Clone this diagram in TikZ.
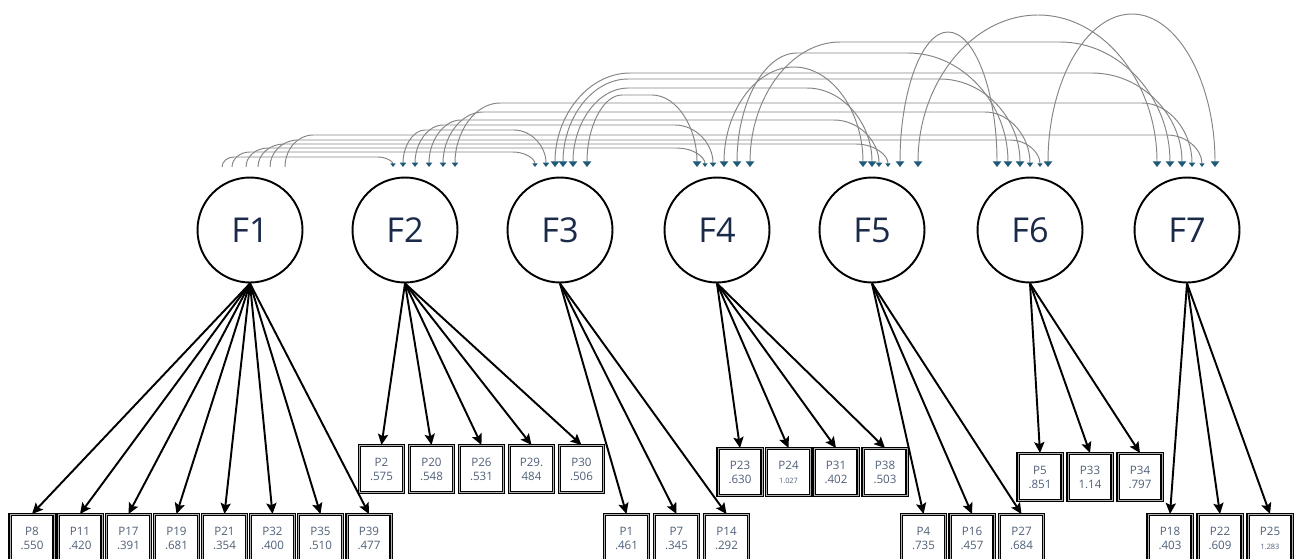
\documentclass[tikz,border=0pt]{standalone}
\usepackage{fontspec}
\setmainfont{Open Sans}
\usetikzlibrary{arrows.meta,calc}
\definecolor{navy}{HTML}{1B2A48}
\definecolor{boxtxt}{HTML}{4F5F78}
\definecolor{headc}{HTML}{1F5A78}
\definecolor{covc}{HTML}{858585}
% #1 start, #2 end, #3 rise, #4 left radius, #5 right radius, #6 style
\newcommand\covarc[6]{\draw[covline,#6] (#1) .. controls +(0,0.552*#3) and +(-0.552*#4,0) .. ++(#4,#3) -- ($(#2)+(-#5,#3)$) .. controls +(0.552*#5,0) and +(0,0.552*#3) .. (#2);}
\begin{document}
\begin{tikzpicture}[x=0.02cm,y=0.02cm,
  factor/.style={circle,draw=black,line width=1.1pt,minimum size=2.1cm,inner sep=0pt,font=\fontsize{19.5}{19.5}\selectfont,text=navy},
  item/.style={rectangle,draw=black,line width=0.7pt,double=black!30,double distance=0.45pt,minimum width=0.88cm,minimum height=0.94cm,inner sep=0pt,anchor=north,align=center,font=\fontsize{6.6}{8}\selectfont,text=boxtxt},
  load/.style={line width=1.1pt,-{Stealth[length=6.2pt,width=5.8pt,inset=1.2pt]}},
  covline/.style={draw=covc,line width=0.55pt},
  hb/.style={{Triangle[width=4.8pt,length=3.2pt,color=headc]}-{Triangle[width=4.8pt,length=3.2pt,color=headc]}},
  hm/.style={{Triangle[width=3.6pt,length=2.5pt,color=headc]}-{Triangle[width=3.6pt,length=2.5pt,color=headc]}},
  hs/.style={-{Triangle[width=2.8pt,length=2pt,color=headc]}}
]
\useasboundingbox (0,0) rectangle (1295,-558);

% covariance end points
\foreach \n/\x in {d12/222,d13/232,d14/246,d15/258,d16/270,d17/285,
  d23/403,d24/415,d25/429,d26/443,d27/455,
  d34/587,d35/573,d36/563,d37/555,
  d45/724,d46/737,d47/750,d56/900,d57/918,d67/1048,
  a12/393,a13/535,a14/705,a15/888,a16/1040,a17/1202,
  a23/546,a24/713,a25/879,a26/1030,a27/1192,
  a34/697,a35/872,a36/1020,a37/1182,
  a45/863,a46/1008,a47/1170,a56/997,a57/1157,a67/1215}
  {\coordinate (\n) at (\x,-167);}

% covariance arcs
\covarc{d12}{a12}{10}{12}{15}{hs}
\covarc{d13}{a13}{15}{18}{22}{hs}
\covarc{d14}{a14}{19}{22}{28}{hs}
\covarc{d15}{a15}{23}{26}{32}{hs}
\covarc{d16}{a16}{27}{28}{30}{hs}
\covarc{d17}{a17}{32}{28}{35}{hs}
\covarc{d23}{a23}{37}{22}{32}{hm}
\covarc{d24}{a24}{42}{28}{38}{hm}
\covarc{d25}{a25}{47}{32}{45}{hm}
\covarc{d26}{a26}{55}{40}{45}{hm}
\covarc{d27}{a27}{64}{45}{50}{hm}
\covarc{d34}{a34}{72}{35}{45}{hb}
\covarc{d35}{a35}{79}{55}{65}{hb}
\covarc{d36}{a36}{88}{65}{80}{hb}
\covarc{d37}{a37}{94}{75}{90}{hb}
\covarc{d45}{a45}{100}{70}{69}{hb}
\covarc{d46}{a46}{114}{60}{100}{hb}
\covarc{d47}{a47}{125}{90}{110}{hb}
\covarc{d56}{a56}{135}{48}{49}{hb}
\covarc{d57}{a57}{152}{120}{119}{hb}
\covarc{d67}{a67}{153}{84}{83}{hb}

% factors
\node[factor] (F1) at (250,-230) {F1};
\node[factor] (F2) at (405,-230) {F2};
\node[factor] (F3) at (560,-230) {F3};
\node[factor] (F4) at (717,-230) {F4};
\node[factor] (F5) at (872,-230) {F5};
\node[factor] (F6) at (1030,-230) {F6};
\node[factor] (F7) at (1187,-230) {F7};

% items F1
\node[item] (P8)  at (32,-514)    {P8\\.550};
\node[item] (P11) at (80,-514)    {P11\\.420};
\node[item] (P17) at (128.5,-514) {P17\\.391};
\node[item] (P19) at (176.5,-514) {P19\\.681};
\node[item] (P21) at (224.5,-514) {P21\\.354};
\node[item] (P32) at (272.5,-514) {P32\\.400};
\node[item] (P35) at (320.5,-514) {P35\\.510};
\node[item] (P39) at (369,-514)   {P39\\.477};
% items F2
\node[item] (P2)  at (381.5,-445) {P2\\.575};
\node[item] (P20) at (431.5,-445) {P20\\.548};
\node[item] (P26) at (481.5,-445) {P26\\.531};
\node[item] (P29) at (531.5,-445) {P29.\\484};
\node[item] (P30) at (581.5,-445) {P30\\.506};
% items F3
\node[item] (P1)  at (626.5,-514) {P1\\.461};
\node[item] (P7)  at (676.5,-514) {P7\\.345};
\node[item] (P14) at (726.5,-514) {P14\\.292};
% items F4
\node[item] (P23) at (740,-448)   {P23\\.630};
\node[item] (P24) at (788.5,-448) {P24\\{\fontsize{4.2}{5}\selectfont 1.027}};
\node[item] (P31) at (836,-448)   {P31\\.402};
\node[item] (P38) at (885,-448)   {P38\\.503};
% items F5
\node[item] (P4)  at (923.5,-514) {P4\\.735};
\node[item] (P16) at (972,-514)   {P16\\.457};
\node[item] (P27) at (1021.5,-514){P27\\.684};
% items F6
\node[item] (P5)  at (1040,-453)  {P5\\.851};
\node[item] (P33) at (1090,-453)  {P33\\1.14};
\node[item] (P34) at (1140,-453)  {P34\\.797};
% items F7
\node[item] (P18) at (1170,-514)  {P18\\.403};
\node[item] (P22) at (1220,-514)  {P22\\.609};
\node[item] (P25) at (1270,-514)  {P25\\{\fontsize{4.2}{5}\selectfont 1.283}};

% loadings
\foreach \p in {P8,P11,P17,P19,P21,P32,P35,P39} \draw[load] (F1.south) -- (\p.north);
\foreach \p in {P2,P20,P26,P29,P30} \draw[load] (F2.south) -- (\p.north);
\foreach \p in {P1,P7,P14} \draw[load] (F3.south) -- (\p.north);
\foreach \p in {P23,P24,P31,P38} \draw[load] (F4.south) -- (\p.north);
\foreach \p in {P4,P16,P27} \draw[load] (F5.south) -- (\p.north);
\foreach \p in {P5,P33,P34} \draw[load] (F6.south) -- (\p.north);
\foreach \p in {P18,P22,P25} \draw[load] (F7.south) -- (\p.north);
\end{tikzpicture}
\end{document}
